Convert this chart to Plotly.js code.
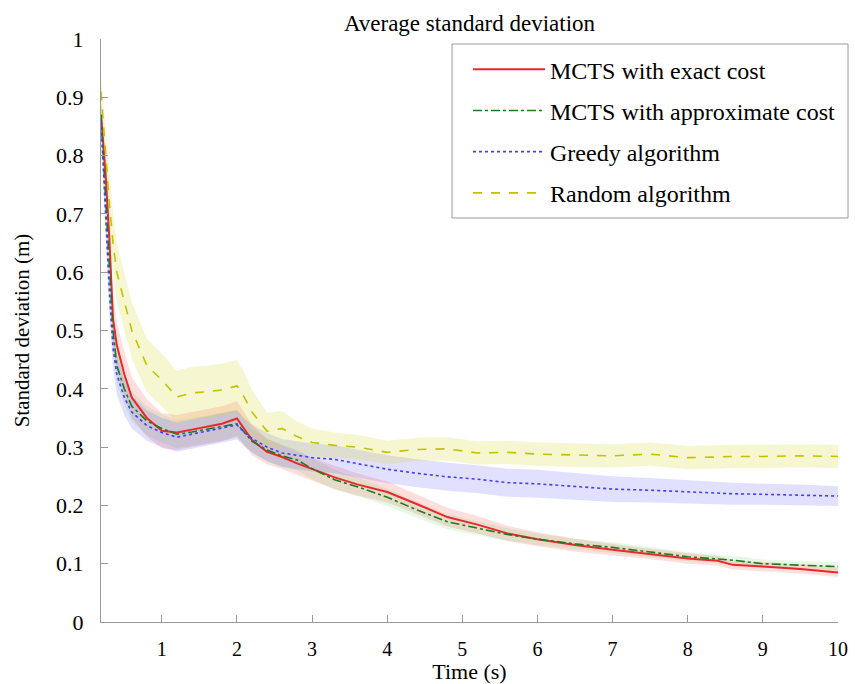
<!DOCTYPE html>
<html>
<head>
<meta charset="utf-8">
<script src="https://cdn.plot.ly/plotly-3.0.1.min.js"></script>
<style>html,body{margin:0;padding:0;background:#fff;}#chart{width:855px;height:684px;}</style>
</head>
<body>
<div id="chart"></div>
<script>
const time = [0.19,0.25,0.3,0.35,0.4,0.5,0.6,0.8,1.0,1.2,1.4,1.6,1.8,2.0,2.1,2.2,2.4,2.6,2.8,3.0,3.3,3.6,4.0,4.4,4.8,5.2,5.6,6.0,6.5,7.0,7.5,8.0,8.4,8.6,9.0,9.5,10];

const mctsExact = [0.87,0.77,0.66,0.52,0.475,0.425,0.385,0.35,0.328,0.325,0.33,0.335,0.34,0.349,0.33,0.312,0.292,0.283,0.272,0.262,0.248,0.236,0.223,0.202,0.18,0.167,0.152,0.142,0.132,0.124,0.117,0.109,0.105,0.098,0.095,0.091,0.085];
const mctsExactSpread = [0.02,0.035,0.04,0.04,0.04,0.038,0.035,0.032,0.03,0.03,0.03,0.03,0.03,0.03,0.028,0.026,0.022,0.02,0.02,0.02,0.02,0.019,0.018,0.017,0.016,0.015,0.013,0.012,0.011,0.01,0.009,0.009,0.008,0.008,0.008,0.008,0.008];

const mctsApprox = [0.87,0.73,0.6,0.5,0.44,0.4,0.37,0.345,0.332,0.322,0.326,0.331,0.335,0.34,0.325,0.31,0.295,0.285,0.278,0.263,0.244,0.232,0.214,0.192,0.172,0.161,0.15,0.142,0.134,0.128,0.12,0.112,0.108,0.106,0.1,0.097,0.095];
const mctsApproxSpread = [0.02,0.03,0.03,0.03,0.03,0.028,0.026,0.025,0.024,0.024,0.024,0.024,0.024,0.024,0.022,0.02,0.02,0.019,0.018,0.018,0.017,0.016,0.015,0.014,0.013,0.012,0.011,0.01,0.009,0.009,0.008,0.008,0.007,0.007,0.007,0.007,0.007];

const greedy = [0.86,0.7,0.57,0.47,0.425,0.385,0.36,0.337,0.325,0.317,0.322,0.328,0.333,0.338,0.325,0.315,0.3,0.29,0.286,0.282,0.279,0.272,0.262,0.255,0.249,0.245,0.239,0.237,0.232,0.228,0.226,0.223,0.221,0.22,0.219,0.218,0.216];
const greedySpread = [0.02,0.03,0.035,0.035,0.035,0.03,0.028,0.026,0.025,0.025,0.025,0.025,0.025,0.025,0.024,0.024,0.024,0.024,0.024,0.024,0.024,0.024,0.024,0.024,0.024,0.024,0.024,0.024,0.023,0.022,0.021,0.02,0.019,0.019,0.018,0.018,0.017];

const randomAlg = [0.91,0.8,0.72,0.65,0.6,0.55,0.5,0.44,0.415,0.386,0.393,0.395,0.398,0.405,0.385,0.36,0.327,0.332,0.318,0.308,0.303,0.3,0.291,0.296,0.297,0.29,0.291,0.288,0.286,0.285,0.288,0.282,0.283,0.284,0.284,0.285,0.284];
const randomSpread = [0.03,0.05,0.05,0.05,0.05,0.05,0.048,0.046,0.045,0.045,0.045,0.045,0.045,0.045,0.042,0.038,0.032,0.03,0.026,0.024,0.022,0.021,0.02,0.02,0.02,0.02,0.02,0.02,0.02,0.02,0.02,0.02,0.02,0.02,0.02,0.02,0.02];

const seriesNames = ["MCTS with exact cost","MCTS with approximate cost","Greedy algorithm","Random algorithm"];
const xTicks = [1,2,3,4,5,6,7,8,9,10];
const yTicks = [0,0.1,0.2,0.3,0.4,0.5,0.6,0.7,0.8,0.9,1];

const series = [
  {name: seriesNames[0], y: mctsExact, s: mctsExactSpread, color: "#e8282a", dash: "solid", width: 2, fill: "rgba(255,60,60,0.17)"},
  {name: seriesNames[1], y: mctsApprox, s: mctsApproxSpread, color: "#1e7a1e", dash: "dashdot", width: 1.6, fill: "rgba(60,200,60,0.13)"},
  {name: seriesNames[2], y: greedy, s: greedySpread, color: "#4040f0", dash: "dot", width: 1.6, fill: "rgba(80,80,255,0.17)"},
  {name: seriesNames[3], y: randomAlg, s: randomSpread, color: "#c2c200", dash: "dash", width: 1.6, fill: "rgba(215,215,40,0.22)"}
];

const traces = [];
series.forEach(function(sr){
  traces.push({x: time, y: sr.y.map(function(v,i){return v + sr.s[i];}), mode: "lines", line: {width: 0}, showlegend: false, hoverinfo: "skip"});
  traces.push({x: time, y: sr.y.map(function(v,i){return v - sr.s[i];}), mode: "lines", line: {width: 0}, fill: "tonexty", fillcolor: sr.fill, showlegend: false, hoverinfo: "skip"});
});
series.forEach(function(sr, k){
  traces.push({x: time, y: sr.y, mode: "lines", name: sr.name, legendgroup: "g" + k, line: {color: sr.color, dash: sr.dash, width: sr.width}});
});

const fam = "Liberation Serif, Times New Roman, serif";
function f(size){ return {family: fam, size: size, color: "#000"}; }

const layout = {
  width: 855, height: 684,
  paper_bgcolor: "#fff", plot_bgcolor: "#fff",
  margin: {l: 101, r: 17, t: 39, b: 62},
  font: f(20),
  title: {text: "Average standard deviation", font: f(23), xref: "paper", x: 0.5, xanchor: "center", y: 0.967, yanchor: "middle"},
  xaxis: {
    range: [0.19, 10], tickvals: xTicks, ticktext: xTicks.map(String),
    ticks: "inside", ticklen: 7, tickcolor: "#999", showline: true, linecolor: "#999", linewidth: 1,
    showgrid: false, zeroline: false, tickfont: f(20), ticklabelstandoff: 9,
    title: {text: "Time (s)", font: f(22), standoff: 3}
  },
  yaxis: {
    range: [0, 1], tickvals: yTicks, ticktext: yTicks.map(String),
    ticks: "inside", ticklen: 7, tickcolor: "#999", showline: true, linecolor: "#999", linewidth: 1,
    showgrid: false, zeroline: false, tickfont: f(22), ticklabelstandoff: 12,
    title: {text: "Standard deviation (m)", font: f(21), standoff: 20}
  },
  shapes: [{
    type: "rect", xref: "paper", yref: "paper", layer: "above",
    x0: 0.4763, x1: 1.0136, y0: 0.693, y1: 0.9914,
    line: {color: "#999", width: 1}, fillcolor: "#fff"
  }],
  legend: {
    x: 0.498, y: 0.986, xanchor: "left", yanchor: "top",
    bgcolor: "rgba(0,0,0,0)", borderwidth: 0,
    font: f(24), traceorder: "grouped", tracegroupgap: 7, itemwidth: 72
  },
  showlegend: true
};

Plotly.newPlot("chart", traces, layout, {displayModeBar: false, staticPlot: true});
</script>
</body>
</html>
